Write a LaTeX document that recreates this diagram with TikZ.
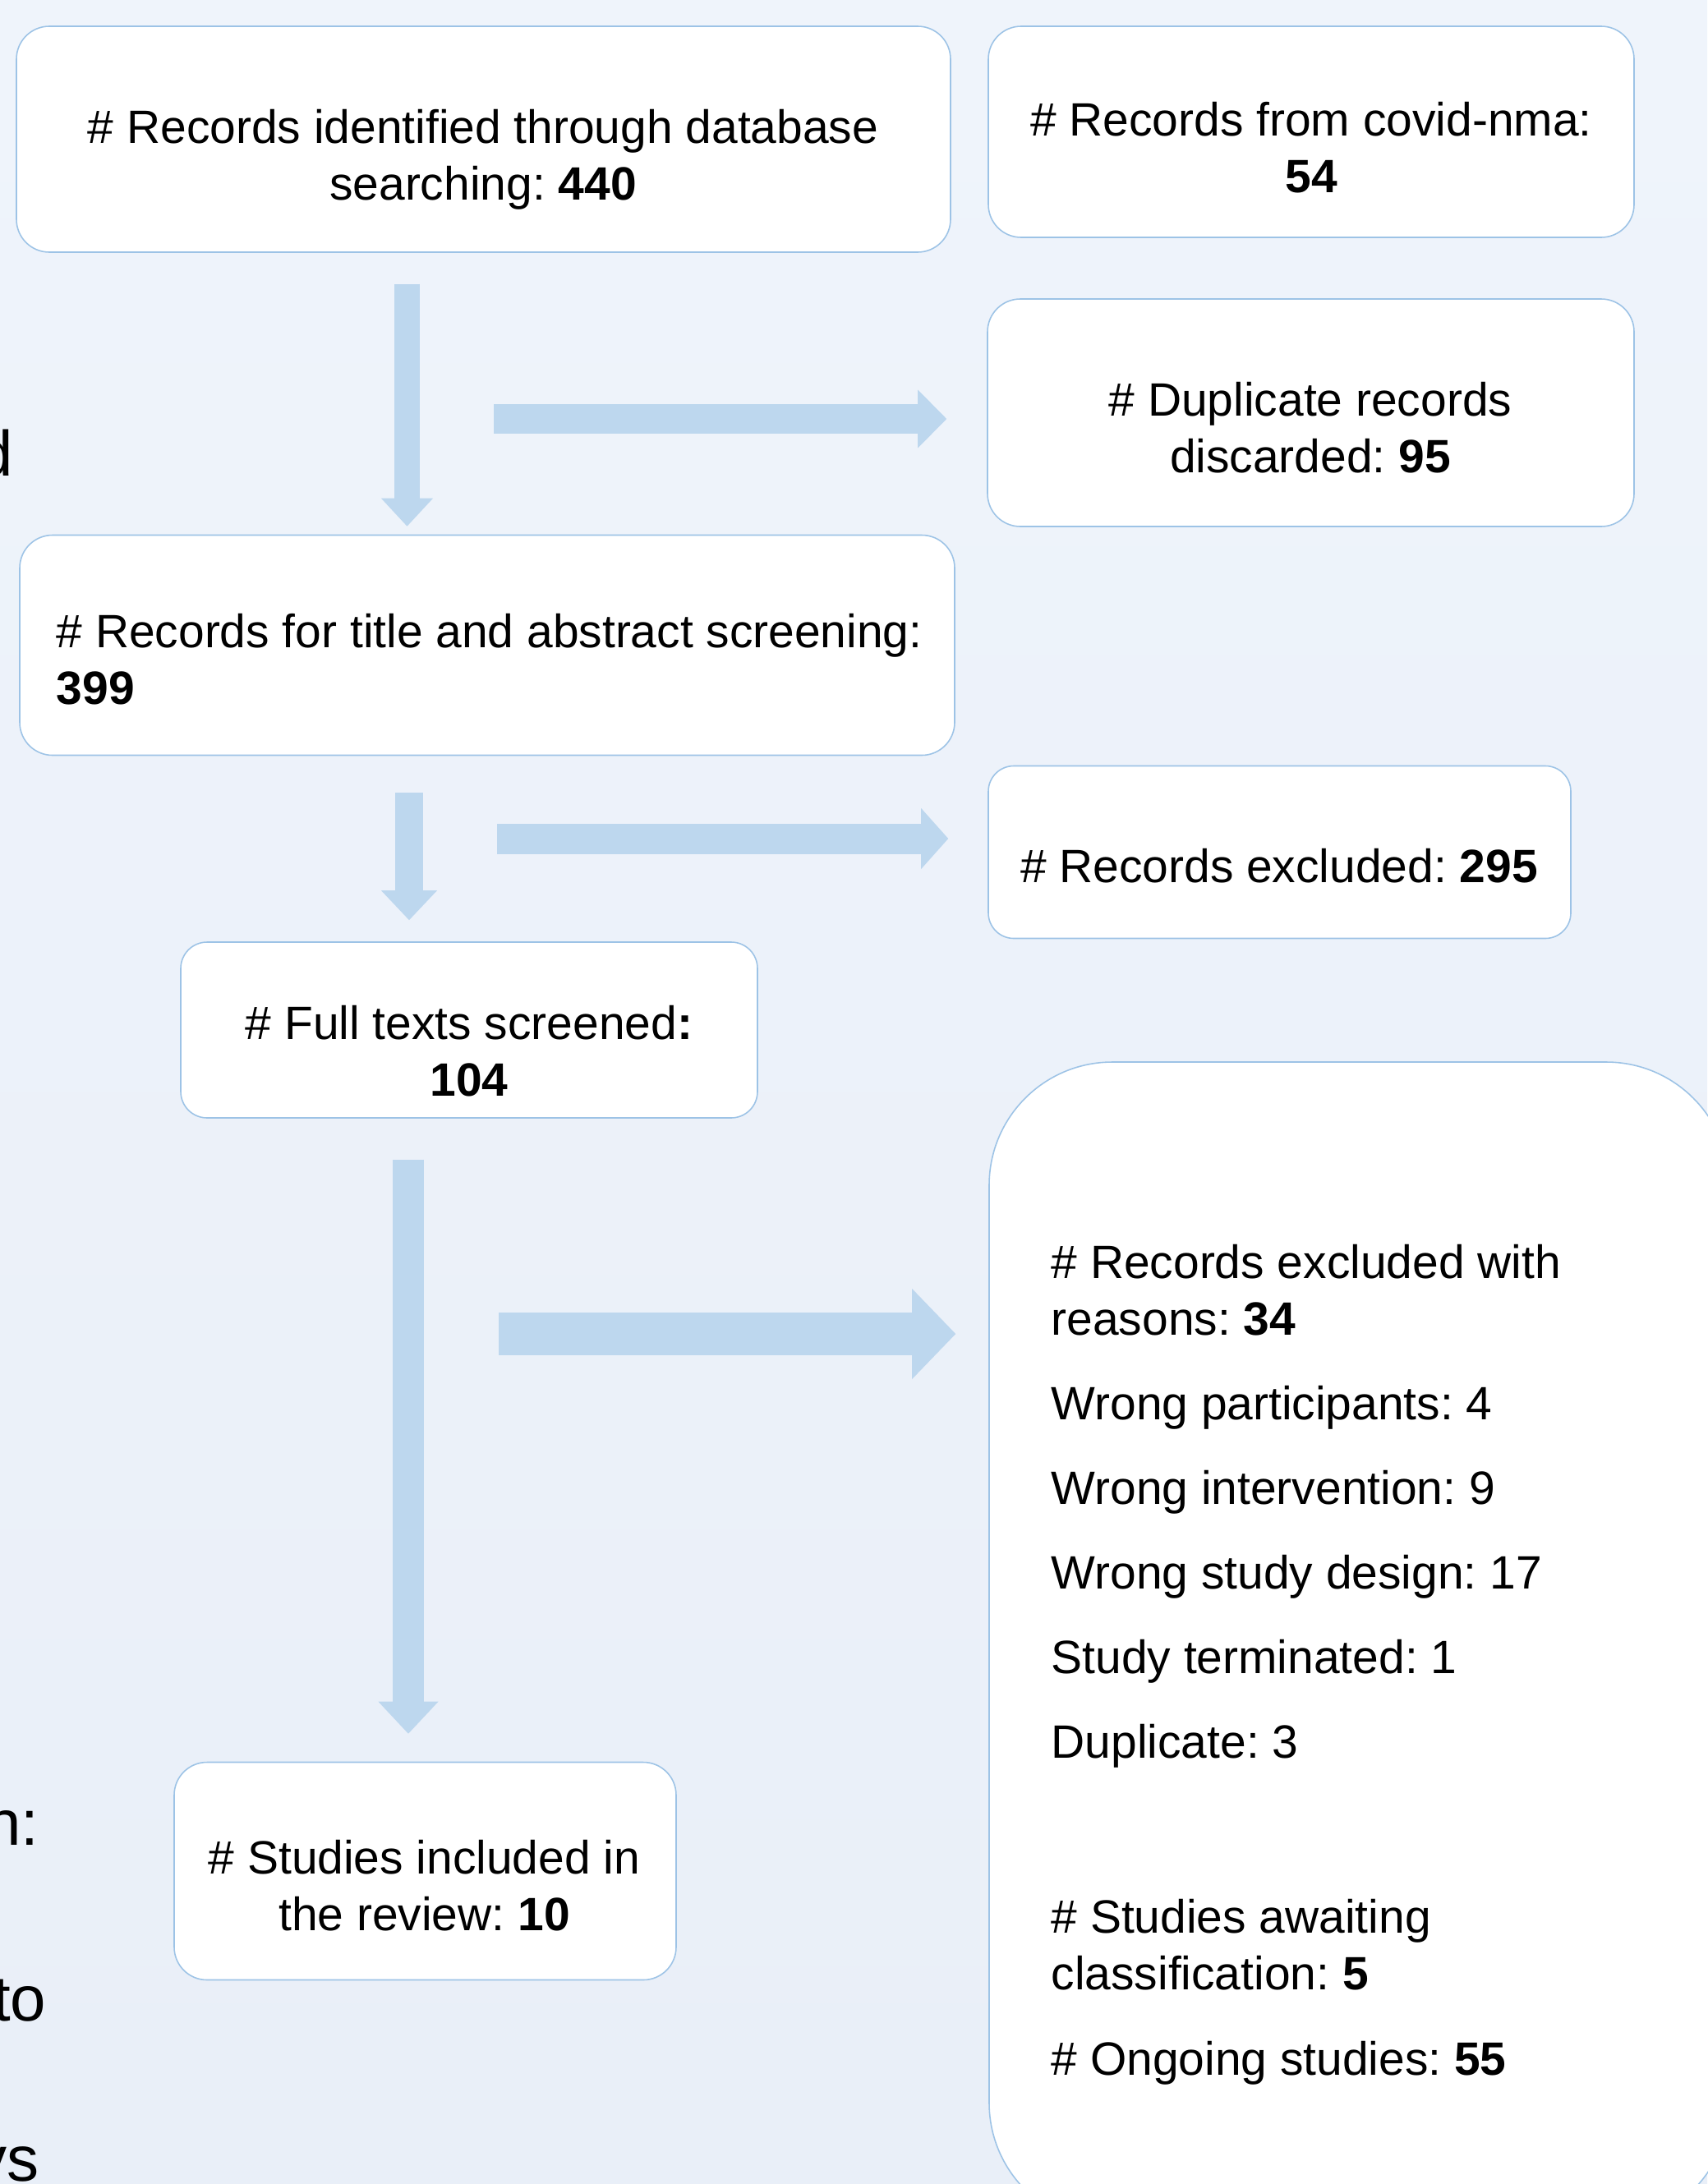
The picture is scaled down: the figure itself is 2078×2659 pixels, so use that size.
\documentclass[tikz,border=0pt]{standalone}
\usepackage{fontspec}
\setmainfont{Liberation Sans}
\usetikzlibrary{arrows.meta}
\usetikzlibrary{positioning}
\usetikzlibrary{calc}
\definecolor{boxline}{RGB}{157,195,230}
\definecolor{arrowfill}{RGB}{189,215,238}
\definecolor{bgtop}{RGB}{239,244,251}
\definecolor{bgbottom}{RGB}{233,239,248}
\newcommand{\boxfont}{\fontsize{16.2}{19.6}\selectfont\frenchspacing}
\newcommand{\sidefont}{\fontsize{22.2}{26}\selectfont}
\tikzset{%
    box/.style={draw=boxline, fill=white, line width=0.45pt, rounded corners=#1, inner sep=0pt},
    box/.default=4mm,
    boxtext/.style={font=\boxfont, align=center, anchor=base, inner sep=0pt},
    listtext/.style={font=\boxfont, align=left, anchor=base west, inner sep=0pt},
    sidetext/.style={font=\sidefont, anchor=base east, inner sep=0pt},
    fatarrow/.style n args={3}{draw=arrowfill, line width=#1, line cap=butt, -{Triangle[width=#2, length=#3, line width=0pt]}},
}

\begin{document}
\begin{tikzpicture}[x=0.1mm, y=-0.1mm]
\useasboundingbox (0,0) rectangle (2078,2659);
\fill[top color=bgtop, bottom color=bgbottom] (0,0) rectangle (2078,2659);
% cut-off words at the left edge
\node[sidetext] (sided) at (17,579) {d};
\node[sidetext] (siden) at (48,2246) {n:};
\node[sidetext] (sideto) at (57,2460) {to};
\node[sidetext] (sideys) at (48,2655) {ys};
% boxes
\node[box, minimum width=113.7mm, minimum height=27.5mm] (dbsearch) at (588.5,169.5) {};
\node[box, minimum width=78.6mm, minimum height=25.7mm] (covidnma) at (1596,160.5) {};
\node[box, minimum width=78.7mm, minimum height=27.7mm] (duplicates) at (1595.5,502.5) {};
\node[box, minimum width=113.8mm, minimum height=26.8mm] (screening) at (593,785.5) {};
\node[box=3.1mm, minimum width=70.9mm, minimum height=21mm] (excluded) at (1557.5,1037.5) {};
\node[box=3.2mm, minimum width=70.2mm, minimum height=21.4mm] (fulltexts) at (571,1254) {};
\node[box=15mm, minimum width=90.1mm, minimum height=141.7mm] (reasons) at (1654.5,2001.5) {};
\node[box, minimum width=61.1mm, minimum height=26.5mm] (included) at (517.5,2278) {};
% box texts (two-line texts sit on their last baseline)
\node[boxtext] (dbsearch-t) at (588,243) {\# Records identified through database\\searching: \textbf{440}};
\node[boxtext] (covidnma-t) at (1596,234) {\# Records from covid-nma:\\\textbf{54}};
\node[boxtext] (duplicates-t) at (1595,575) {\# Duplicate records\\discarded: \textbf{95}};
\node[listtext] (screening-t) at (68,857) {\# Records for title and abstract screening:\\\textbf{399}};
\node[boxtext] (excluded-t) at (1557,1074) {\# Records excluded: \textbf{295}};
\node[boxtext] (fulltexts-t) at (571,1334) {\# Full texts screened\textbf{:}\\\textbf{104}};
\node[boxtext] (included-t) at (516.5,2350) {\# Studies included in\\the review: \textbf{10}};
\node[listtext] (reasons-t1) at (1279,1625) {\# Records excluded with\\reasons: \textbf{34}};
\node[listtext] (reasons-t2) at (1279,1728) {Wrong participants: 4};
\node[listtext] (reasons-t3) at (1279,1831) {Wrong intervention: 9};
\node[listtext] (reasons-t4) at (1279,1934) {Wrong study design: 17};
\node[listtext] (reasons-t5) at (1279,2037) {Study terminated: 1};
\node[listtext] (reasons-t6) at (1279,2140) {Duplicate: 3};
\node[listtext] (reasons-t7) at (1279,2422) {\# Studies awaiting\\classification: \textbf{5}};
\node[listtext] (reasons-t8) at (1279,2526) {\# Ongoing studies: \textbf{55}};
% arrows
\coordinate (downa) at (495.5,0);
\coordinate (downb) at (498,0);
\coordinate (downc) at (497,0);
\coordinate (righta) at (601,510);
\coordinate (rightb) at (605,1021);
\coordinate (rightc) at (607,1624);
\path (dbsearch.south -| downa) edge[fatarrow={3.1mm}{6.3mm}{3.4mm}, shorten <=3.8mm, shorten >=1mm] (screening.north -| downa);
\path (screening.south -| downb) edge[fatarrow={3.4mm}{6.8mm}{3.6mm}, shorten <=4.5mm, shorten >=2.6mm] (fulltexts.north -| downb);
\path (fulltexts.south -| downc) edge[fatarrow={3.8mm}{7.3mm}{3.9mm}, shorten <=5mm, shorten >=3.4mm] (included.north -| downc);
\path (righta) edge[fatarrow={3.6mm}{7.1mm}{3.5mm}, shorten >=4.9mm] (righta -| duplicates.west);
\path (rightb) edge[fatarrow={3.7mm}{7.4mm}{3.3mm}, shorten >=4.8mm] (rightb -| excluded.west);
\path (rightc) edge[fatarrow={5.2mm}{11mm}{5.3mm}, shorten >=4mm] (rightc -| reasons.west);
\end{tikzpicture}
\end{document}
